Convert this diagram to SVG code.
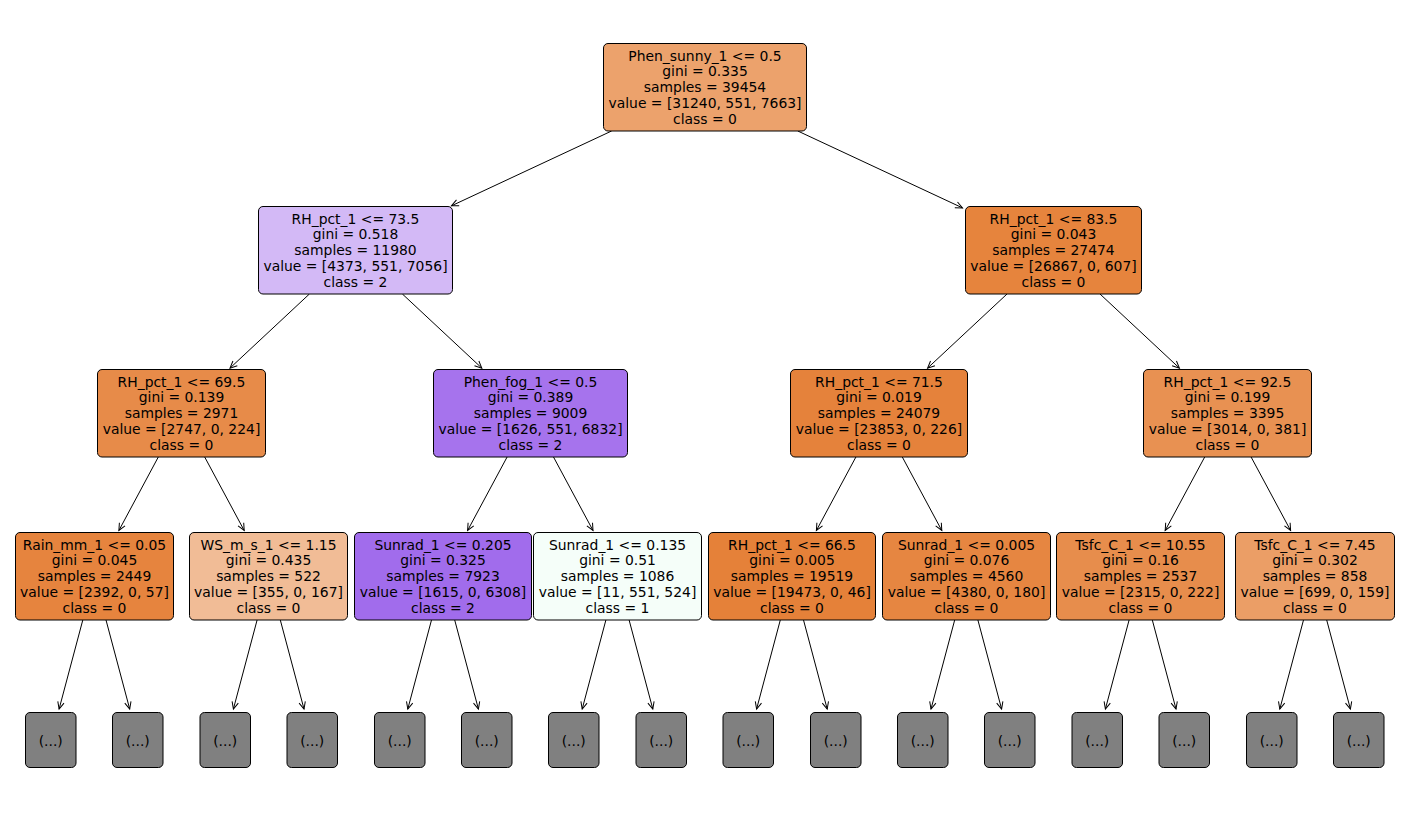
<svg xmlns="http://www.w3.org/2000/svg" width="1409" height="829" viewBox="0 0 1409 829">
<defs>
<style>
.box{stroke:#000;stroke-width:1}
.leaf{fill:#808080;stroke:#000;stroke-width:1}
.t{font-family:"DejaVu Sans","Liberation Sans",sans-serif;font-size:13.9px;text-anchor:middle;fill:#000}
.edge{stroke:#000;stroke-width:1;fill:none;marker-end:url(#ah)}
</style>
<marker id="ah" markerUnits="userSpaceOnUse" markerWidth="12" markerHeight="10" viewBox="-9 -5 10 10" refX="0" refY="0" orient="auto">
<path d="M-7,-3.2 L0,0 L-7,3.2" fill="none" stroke="#000" stroke-width="1" stroke-linejoin="miter"/>
</marker>
</defs>
<rect width="1409" height="829" fill="#fff"/>
<g id="connectors">
<line class="edge" x1="611.6" y1="131" x2="451.5" y2="205.8"/>
<line class="edge" x1="797.8" y1="131" x2="962.5" y2="207.9"/>
<line class="edge" x1="309.4" y1="294" x2="230.0" y2="368.1"/>
<line class="edge" x1="402.4" y1="294" x2="481.8" y2="368.1"/>
<line class="edge" x1="1007.0" y1="294" x2="927.6" y2="368.1"/>
<line class="edge" x1="1100.0" y1="294" x2="1179.4" y2="368.1"/>
<line class="edge" x1="158.3" y1="457" x2="118.9" y2="530.5"/>
<line class="edge" x1="204.7" y1="457" x2="244.2" y2="530.5"/>
<line class="edge" x1="507.1" y1="457" x2="467.6" y2="530.5"/>
<line class="edge" x1="553.5" y1="457" x2="593.0" y2="530.5"/>
<line class="edge" x1="855.9" y1="457" x2="816.4" y2="530.5"/>
<line class="edge" x1="902.3" y1="457" x2="941.8" y2="530.5"/>
<line class="edge" x1="1204.7" y1="457" x2="1165.2" y2="530.5"/>
<line class="edge" x1="1251.1" y1="457" x2="1290.6" y2="530.5"/>
<line class="edge" x1="82.8" y1="620" x2="59.1" y2="709"/>
<line class="edge" x1="106.0" y1="620" x2="129.7" y2="709"/>
<line class="edge" x1="257.1" y1="620" x2="233.4" y2="709"/>
<line class="edge" x1="280.3" y1="620" x2="304.0" y2="709"/>
<line class="edge" x1="431.5" y1="620" x2="407.8" y2="709"/>
<line class="edge" x1="454.7" y1="620" x2="478.4" y2="709"/>
<line class="edge" x1="605.9" y1="620" x2="582.2" y2="709"/>
<line class="edge" x1="629.1" y1="620" x2="652.8" y2="709"/>
<line class="edge" x1="780.3" y1="620" x2="756.6" y2="709"/>
<line class="edge" x1="803.5" y1="620" x2="827.2" y2="709"/>
<line class="edge" x1="954.7" y1="620" x2="931.0" y2="709"/>
<line class="edge" x1="977.9" y1="620" x2="1001.6" y2="709"/>
<line class="edge" x1="1129.1" y1="620" x2="1105.4" y2="709"/>
<line class="edge" x1="1152.3" y1="620" x2="1176.0" y2="709"/>
<line class="edge" x1="1303.5" y1="620" x2="1279.8" y2="709"/>
<line class="edge" x1="1326.7" y1="620" x2="1350.4" y2="709"/>
</g>
<g id="node0">
<rect class="box" x="603.5" y="43.5" width="203" height="87.5" rx="4.5" fill="#eca26c"/>
<text class="t" x="705" y="60.5"><tspan x="705">Phen_sunny_1 &lt;= 0.5</tspan><tspan x="705" dy="15.9">gini = 0.335</tspan><tspan x="705" dy="15.9">samples = 39454</tspan><tspan x="705" dy="15.9">value = [31240, 551, 7663]</tspan><tspan x="705" dy="15.9">class = 0</tspan></text>
</g>
<g id="node1">
<rect class="box" x="258.5" y="206.5" width="194" height="87.5" rx="4.5" fill="#d3b9f6"/>
<text class="t" x="355.5" y="223.5"><tspan x="355.5">RH_pct_1 &lt;= 73.5</tspan><tspan x="355.5" dy="15.9">gini = 0.518</tspan><tspan x="355.5" dy="15.9">samples = 11980</tspan><tspan x="355.5" dy="15.9">value = [4373, 551, 7056]</tspan><tspan x="355.5" dy="15.9">class = 2</tspan></text>
</g>
<g id="node2">
<rect class="box" x="965.5" y="206.5" width="176" height="87.5" rx="4.5" fill="#e6843d"/>
<text class="t" x="1053.5" y="223.5"><tspan x="1053.5">RH_pct_1 &lt;= 83.5</tspan><tspan x="1053.5" dy="15.9">gini = 0.043</tspan><tspan x="1053.5" dy="15.9">samples = 27474</tspan><tspan x="1053.5" dy="15.9">value = [26867, 0, 607]</tspan><tspan x="1053.5" dy="15.9">class = 0</tspan></text>
</g>
<g id="node3">
<rect class="box" x="97.5" y="369.5" width="168" height="87.5" rx="4.5" fill="#e78b49"/>
<text class="t" x="181.5" y="386.5"><tspan x="181.5">RH_pct_1 &lt;= 69.5</tspan><tspan x="181.5" dy="15.9">gini = 0.139</tspan><tspan x="181.5" dy="15.9">samples = 2971</tspan><tspan x="181.5" dy="15.9">value = [2747, 0, 224]</tspan><tspan x="181.5" dy="15.9">class = 0</tspan></text>
</g>
<g id="node4">
<rect class="box" x="433.5" y="369.5" width="194" height="87.5" rx="4.5" fill="#a673ed"/>
<text class="t" x="530.5" y="386.5"><tspan x="530.5">Phen_fog_1 &lt;= 0.5</tspan><tspan x="530.5" dy="15.9">gini = 0.389</tspan><tspan x="530.5" dy="15.9">samples = 9009</tspan><tspan x="530.5" dy="15.9">value = [1626, 551, 6832]</tspan><tspan x="530.5" dy="15.9">class = 2</tspan></text>
</g>
<g id="node5">
<rect class="box" x="790.5" y="369.5" width="177" height="87.5" rx="4.5" fill="#e5823b"/>
<text class="t" x="879" y="386.5"><tspan x="879">RH_pct_1 &lt;= 71.5</tspan><tspan x="879" dy="15.9">gini = 0.019</tspan><tspan x="879" dy="15.9">samples = 24079</tspan><tspan x="879" dy="15.9">value = [23853, 0, 226]</tspan><tspan x="879" dy="15.9">class = 0</tspan></text>
</g>
<g id="node6">
<rect class="box" x="1143.5" y="369.5" width="168" height="87.5" rx="4.5" fill="#e89152"/>
<text class="t" x="1227.5" y="386.5"><tspan x="1227.5">RH_pct_1 &lt;= 92.5</tspan><tspan x="1227.5" dy="15.9">gini = 0.199</tspan><tspan x="1227.5" dy="15.9">samples = 3395</tspan><tspan x="1227.5" dy="15.9">value = [3014, 0, 381]</tspan><tspan x="1227.5" dy="15.9">class = 0</tspan></text>
</g>
<g id="node7">
<rect class="box" x="15.5" y="532.5" width="158" height="87.5" rx="4.5" fill="#e6843e"/>
<text class="t" x="94.5" y="549.5"><tspan x="94.5">Rain_mm_1 &lt;= 0.05</tspan><tspan x="94.5" dy="15.9">gini = 0.045</tspan><tspan x="94.5" dy="15.9">samples = 2449</tspan><tspan x="94.5" dy="15.9">value = [2392, 0, 57]</tspan><tspan x="94.5" dy="15.9">class = 0</tspan></text>
</g>
<g id="node8">
<rect class="box" x="189.5" y="532.5" width="158" height="87.5" rx="4.5" fill="#f1bc96"/>
<text class="t" x="268.5" y="549.5"><tspan x="268.5">WS_m_s_1 &lt;= 1.15</tspan><tspan x="268.5" dy="15.9">gini = 0.435</tspan><tspan x="268.5" dy="15.9">samples = 522</tspan><tspan x="268.5" dy="15.9">value = [355, 0, 167]</tspan><tspan x="268.5" dy="15.9">class = 0</tspan></text>
</g>
<g id="node9">
<rect class="box" x="354.5" y="532.5" width="177" height="87.5" rx="4.5" fill="#a16cec"/>
<text class="t" x="443" y="549.5"><tspan x="443">Sunrad_1 &lt;= 0.205</tspan><tspan x="443" dy="15.9">gini = 0.325</tspan><tspan x="443" dy="15.9">samples = 7923</tspan><tspan x="443" dy="15.9">value = [1615, 0, 6308]</tspan><tspan x="443" dy="15.9">class = 2</tspan></text>
</g>
<g id="node10">
<rect class="box" x="533.5" y="532.5" width="168" height="87.5" rx="4.5" fill="#f5fef9"/>
<text class="t" x="617.5" y="549.5"><tspan x="617.5">Sunrad_1 &lt;= 0.135</tspan><tspan x="617.5" dy="15.9">gini = 0.51</tspan><tspan x="617.5" dy="15.9">samples = 1086</tspan><tspan x="617.5" dy="15.9">value = [11, 551, 524]</tspan><tspan x="617.5" dy="15.9">class = 1</tspan></text>
</g>
<g id="node11">
<rect class="box" x="708.5" y="532.5" width="167" height="87.5" rx="4.5" fill="#e58139"/>
<text class="t" x="792" y="549.5"><tspan x="792">RH_pct_1 &lt;= 66.5</tspan><tspan x="792" dy="15.9">gini = 0.005</tspan><tspan x="792" dy="15.9">samples = 19519</tspan><tspan x="792" dy="15.9">value = [19473, 0, 46]</tspan><tspan x="792" dy="15.9">class = 0</tspan></text>
</g>
<g id="node12">
<rect class="box" x="882.5" y="532.5" width="168" height="87.5" rx="4.5" fill="#e68641"/>
<text class="t" x="966.5" y="549.5"><tspan x="966.5">Sunrad_1 &lt;= 0.005</tspan><tspan x="966.5" dy="15.9">gini = 0.076</tspan><tspan x="966.5" dy="15.9">samples = 4560</tspan><tspan x="966.5" dy="15.9">value = [4380, 0, 180]</tspan><tspan x="966.5" dy="15.9">class = 0</tspan></text>
</g>
<g id="node13">
<rect class="box" x="1056.5" y="532.5" width="168" height="87.5" rx="4.5" fill="#e78d4c"/>
<text class="t" x="1140.5" y="549.5"><tspan x="1140.5">Tsfc_C_1 &lt;= 10.55</tspan><tspan x="1140.5" dy="15.9">gini = 0.16</tspan><tspan x="1140.5" dy="15.9">samples = 2537</tspan><tspan x="1140.5" dy="15.9">value = [2315, 0, 222]</tspan><tspan x="1140.5" dy="15.9">class = 0</tspan></text>
</g>
<g id="node14">
<rect class="box" x="1235.5" y="532.5" width="159" height="87.5" rx="4.5" fill="#eb9e66"/>
<text class="t" x="1315" y="549.5"><tspan x="1315">Tsfc_C_1 &lt;= 7.45</tspan><tspan x="1315" dy="15.9">gini = 0.302</tspan><tspan x="1315" dy="15.9">samples = 858</tspan><tspan x="1315" dy="15.9">value = [699, 0, 159]</tspan><tspan x="1315" dy="15.9">class = 0</tspan></text>
</g>
<g id="leaf0"><rect class="leaf" x="25.5" y="712.5" width="50.5" height="55" rx="4.5"/><text class="t" x="50.75" y="745.5">(...)</text></g>
<g id="leaf1"><rect class="leaf" x="112.5" y="712.5" width="50.5" height="55" rx="4.5"/><text class="t" x="137.75" y="745.5">(...)</text></g>
<g id="leaf2"><rect class="leaf" x="200" y="712.5" width="50.5" height="55" rx="4.5"/><text class="t" x="225.25" y="745.5">(...)</text></g>
<g id="leaf3"><rect class="leaf" x="287" y="712.5" width="50.5" height="55" rx="4.5"/><text class="t" x="312.25" y="745.5">(...)</text></g>
<g id="leaf4"><rect class="leaf" x="374.5" y="712.5" width="50.5" height="55" rx="4.5"/><text class="t" x="399.75" y="745.5">(...)</text></g>
<g id="leaf5"><rect class="leaf" x="461.5" y="712.5" width="50.5" height="55" rx="4.5"/><text class="t" x="486.75" y="745.5">(...)</text></g>
<g id="leaf6"><rect class="leaf" x="548.5" y="712.5" width="50.5" height="55" rx="4.5"/><text class="t" x="573.75" y="745.5">(...)</text></g>
<g id="leaf7"><rect class="leaf" x="636" y="712.5" width="50.5" height="55" rx="4.5"/><text class="t" x="661.25" y="745.5">(...)</text></g>
<g id="leaf8"><rect class="leaf" x="723" y="712.5" width="50.5" height="55" rx="4.5"/><text class="t" x="748.25" y="745.5">(...)</text></g>
<g id="leaf9"><rect class="leaf" x="810.5" y="712.5" width="50.5" height="55" rx="4.5"/><text class="t" x="835.75" y="745.5">(...)</text></g>
<g id="leaf10"><rect class="leaf" x="897.5" y="712.5" width="50.5" height="55" rx="4.5"/><text class="t" x="922.75" y="745.5">(...)</text></g>
<g id="leaf11"><rect class="leaf" x="984.5" y="712.5" width="50.5" height="55" rx="4.5"/><text class="t" x="1009.75" y="745.5">(...)</text></g>
<g id="leaf12"><rect class="leaf" x="1072" y="712.5" width="50.5" height="55" rx="4.5"/><text class="t" x="1097.25" y="745.5">(...)</text></g>
<g id="leaf13"><rect class="leaf" x="1159" y="712.5" width="50.5" height="55" rx="4.5"/><text class="t" x="1184.25" y="745.5">(...)</text></g>
<g id="leaf14"><rect class="leaf" x="1246.5" y="712.5" width="50.5" height="55" rx="4.5"/><text class="t" x="1271.75" y="745.5">(...)</text></g>
<g id="leaf15"><rect class="leaf" x="1333.5" y="712.5" width="50.5" height="55" rx="4.5"/><text class="t" x="1358.75" y="745.5">(...)</text></g>
</svg>
